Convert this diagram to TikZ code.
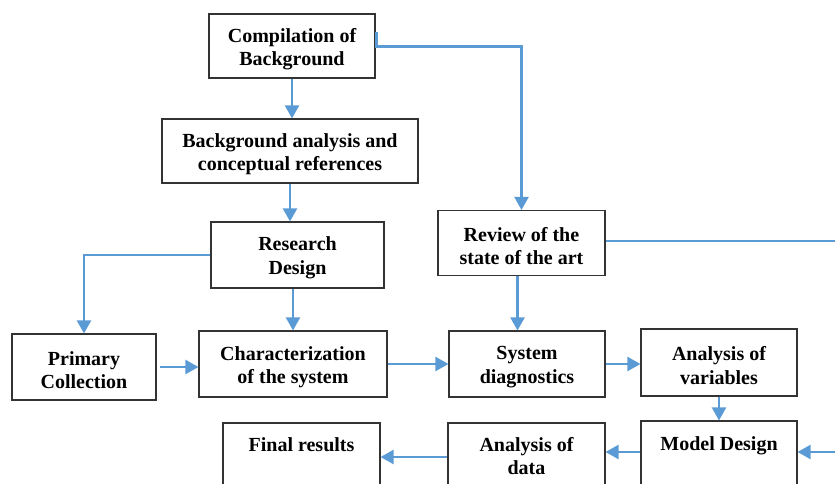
\documentclass[tikz,border=0pt]{standalone}
\usepackage{fontspec}
\setmainfont{Liberation Serif}
\usetikzlibrary{arrows.meta,calc}
\definecolor{arrblue}{HTML}{5B9BD5}
\begin{document}
\begin{tikzpicture}[x=1pt,y=-1pt,
  box/.style={draw=black!80,line width=1.1pt,fill=white,inner sep=0pt},
  lbl/.style={inner sep=0pt,align=center,yshift=-3pt,font=\fontsize{20}{23.5}\selectfont\bfseries},
  arr/.style={draw=arrblue,line width=2.2pt,-{Triangle[length=13pt,width=14pt]}},
  thinline/.style={draw=arrblue,line width=1.2pt}]
\useasboundingbox (0,0) rectangle (835,484);
\clip (0,0) rectangle (835,484);
% boxes
\node[box,minimum width=166pt,minimum height=64pt] (comp) at (292,46) {};
\node[box,minimum width=256pt,minimum height=64pt] (ba) at (290,151) {};
\node[box,minimum width=173pt,minimum height=66pt] (rd) at (297.5,255) {};
\node[box,minimum width=167pt,minimum height=65pt] (rev) at (521.5,243) {};
\node[box,minimum width=144pt,minimum height=66pt] (pc) at (84,367) {};
\node[box,minimum width=188pt,minimum height=66pt] (char) at (293,364) {};
\node[box,minimum width=156pt,minimum height=66pt] (sd) at (527,364) {};
\node[box,minimum width=156pt,minimum height=67pt] (av) at (719,362.5) {};
\node[box,minimum width=156pt,minimum height=79pt] (md) at (719,460.5) {};
\node[box,minimum width=157pt,minimum height=77pt] (ad) at (526.5,461.5) {};
\node[box,minimum width=157pt,minimum height=77pt] (fr) at (301.5,461.5) {};
% texts
\node[lbl] (compl) at (comp) {Compilation of\\Background};
\node[lbl] (bal) at (ba) {Background analysis and\\conceptual references};
\node[lbl] (rdl) at (rd) {Research\\Design};
\node[lbl] (revl) at (rev) {Review of the\\state of the art};
\node[lbl] (pcl) at (pc) {Primary\\Collection};
\node[lbl] (charl) at (char) {Characterization\\of the system};
\node[lbl] (sdl) at (sd) {System\\diagnostics};
\node[lbl] (avl) at (av) {Analysis of\\variables};
\node[lbl] (mdl) at (719,443) {Model Design};
\node[lbl,yshift=3pt] (adl) at (526.5,456) {Analysis of\\data};
\node[lbl,yshift=2pt] (frl) at (301.5,444) {Final results};
% connectors
\draw[arr] (comp.south) -- (comp.south |- ba.north);
\draw[arr] (ba.south) -- (ba.south |- rd.north);
\draw[arr] ([xshift=1pt,yshift=-19pt]comp.north east) -- ++(0,14) -| (rev.north);
\draw[arr] (rd.west) -| (pc.north);
\draw[arr] (rd.south -| char.north) -- (char.north);
\draw[arr] ([xshift=3pt]pc.east) -- (pc.east -| char.west);
\draw[arr] (char.east) -- (char.east -| sd.west);
\draw[arr] ([xshift=-4pt]rev.south) -- ([xshift=-4pt]rev.south |- sd.north);
\draw[arr] (sd.east) -- (sd.east -| av.west);
\draw[arr] (av.south) -- (av.south |- md.north);
\coordinate (rin) at (835,452);
\coordinate (rout) at (835,241);
\draw[thinline] (rout -| rev.east) -- (rout);
\draw[arr] (rin) -- (rin -| md.east);
\draw[arr] (rin -| md.west) -- (rin -| ad.east);
\draw[arr] (525,457 -| ad.west) -- (525,457 -| fr.east);
\end{tikzpicture}
\end{document}
